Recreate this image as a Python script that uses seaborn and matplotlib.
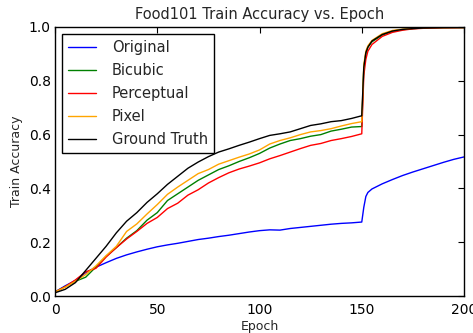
import pandas as pd
import numpy as np
import matplotlib
matplotlib.use("Agg")
import matplotlib.pyplot as plt
import seaborn as sns

# valores (acurácia de treino por época)
epocas = [0, 5, 10, 15, 20, 25, 30, 35, 40, 45, 50, 55, 60, 65, 70, 75, 80, 85, 90, 95,
          100, 105, 110, 115, 120, 125, 130, 135, 140, 145, 150,
          151, 152, 153, 155, 160, 165, 170, 175, 180, 185, 190, 195, 200]

original = [0.015, 0.038, 0.058, 0.087, 0.107, 0.124, 0.14, 0.153, 0.164, 0.174, 0.183,
            0.19, 0.196, 0.203, 0.21, 0.215, 0.221, 0.226, 0.232, 0.238, 0.243, 0.246,
            0.245, 0.251, 0.255, 0.259, 0.263, 0.267, 0.27, 0.272, 0.275,
            0.33, 0.37, 0.385, 0.398, 0.417, 0.433, 0.448, 0.461, 0.473, 0.485, 0.497,
            0.508, 0.517]

bicubic = [0.015, 0.035, 0.055, 0.07, 0.108, 0.148, 0.18, 0.215, 0.243, 0.282, 0.31,
           0.355, 0.38, 0.405, 0.43, 0.45, 0.47, 0.484, 0.5, 0.514, 0.53, 0.55, 0.565,
           0.578, 0.585, 0.594, 0.6, 0.613, 0.62, 0.628, 0.63,
           0.85, 0.9, 0.925, 0.945, 0.97, 0.984, 0.99, 0.994, 0.996, 0.997, 0.997,
           0.998, 0.998]

perceptual = [0.015, 0.035, 0.06, 0.09, 0.103, 0.145, 0.18, 0.212, 0.24, 0.27, 0.292,
              0.325, 0.345, 0.375, 0.395, 0.42, 0.44, 0.458, 0.472, 0.483, 0.495, 0.51,
              0.522, 0.535, 0.548, 0.56, 0.567, 0.578, 0.585, 0.593, 0.603,
              0.82, 0.88, 0.91, 0.935, 0.965, 0.98, 0.988, 0.993, 0.995, 0.996, 0.997,
              0.997, 0.998]

pixel = [0.015, 0.033, 0.055, 0.08, 0.112, 0.15, 0.185, 0.24, 0.268, 0.305, 0.34,
         0.378, 0.405, 0.43, 0.455, 0.47, 0.49, 0.503, 0.516, 0.528, 0.543, 0.565,
         0.578, 0.588, 0.6, 0.61, 0.615, 0.622, 0.632, 0.641, 0.648,
         0.86, 0.91, 0.93, 0.95, 0.975, 0.987, 0.992, 0.995, 0.997, 0.998, 0.998,
         0.998, 0.998]

ground_truth = [0.012, 0.025, 0.05, 0.095, 0.14, 0.185, 0.235, 0.278, 0.31, 0.348, 0.38,
                0.415, 0.445, 0.475, 0.498, 0.518, 0.535, 0.547, 0.56, 0.572, 0.585,
                0.597, 0.603, 0.61, 0.622, 0.634, 0.64, 0.648, 0.652, 0.66, 0.67,
                0.85, 0.905, 0.925, 0.948, 0.972, 0.985, 0.991, 0.994, 0.996, 0.997,
                0.998, 0.998, 0.998]

nomes = ['Original', 'Bicubic', 'Perceptual', 'Pixel', 'Ground Truth']
cores = ['#0000ff', '#008000', '#ff0000', '#ffa500', '#000000']

# monta tabela longa para o seaborn
series = [original, bicubic, perceptual, pixel, ground_truth]
df = pd.concat([pd.DataFrame({'Epoch': epocas, 'acc': vals, 'metodo': nome})
                for nome, vals in zip(nomes, series)], ignore_index=True)

sns.set_style("white")
plt.rcParams['font.family'] = ['DejaVu Sans']

fig = plt.figure(figsize=(4.73, 3.33), dpi=100)
ax = fig.add_axes([0.1163, 0.111, 0.8647, 0.808])

sns.lineplot(data=df, x='Epoch', y='acc', hue='metodo', hue_order=nomes,
             palette=cores, linewidth=1.0, ax=ax, legend=False, sort=False)

ax.set_xlim(0, 200)
ax.set_ylim(0, 1.0)
ax.set_xticks([0, 50, 100, 150, 200])
ax.set_yticks([0.0, 0.2, 0.4, 0.6, 0.8, 1.0])
ax.set_yticklabels(['0.0', '0.2', '0.4', '0.6', '0.8', '1.0'])
ax.tick_params(direction='in', length=4, width=0.8, top=True, right=True,
               labelsize=10, colors='black', pad=3)
ax.tick_params(axis='x', pad=5)
for s in ax.spines.values():
    s.set_color('black')
    s.set_linewidth(1.0)

ax.set_xlabel('Epoch', fontsize=9, labelpad=2)
ax.set_ylabel('Train Accuracy', fontsize=9, labelpad=4)
ax.set_title('Food101 Train Accuracy vs. Epoch', fontsize=10.5, pad=6)

handles = [plt.Line2D([], [], color=c, lw=1.0) for c in cores]
leg = ax.legend(handles, nomes, loc='upper left', fontsize=10.5, fancybox=False,
                framealpha=1, edgecolor='black', labelspacing=0.55,
                handlelength=1.9, handletextpad=1.1, borderpad=0.4,
                borderaxespad=0.5)
leg.get_frame().set_linewidth(1.0)

fig.savefig('out.png', dpi=100, facecolor='white')
